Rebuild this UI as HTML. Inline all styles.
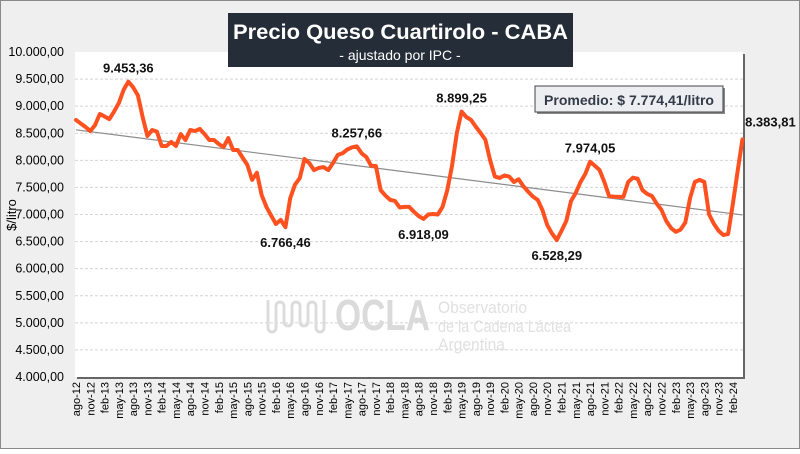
<!DOCTYPE html>
<html><head><meta charset="utf-8"><style>
body{margin:0;background:#fff}
svg text{font-family:"Liberation Sans",sans-serif}
</style></head><body>
<svg id="chart" width="800" height="449" xmlns="http://www.w3.org/2000/svg">
<rect x="0.5" y="0.5" width="799" height="448" fill="#efefef" stroke="#8a8a8a"/>
<rect x="77" y="54" width="668" height="325" fill="#666"/>
<rect x="75" y="52" width="668" height="325" fill="#fff"/>
<g id="grid"></g><g id="ylabels"></g><g id="xlabels"></g>
<g fill="#e0e0e0">
<text x="335" y="330" font-size="44" font-weight="bold" textLength="95" lengthAdjust="spacingAndGlyphs" fill="#dadada">OCLA</text>
<text x="438" y="313" font-size="17" textLength="89" lengthAdjust="spacingAndGlyphs">Observatorio</text>
<text x="438" y="332" font-size="17" textLength="133" lengthAdjust="spacingAndGlyphs">de la Cadena Láctea</text>
<text x="438" y="350" font-size="17" textLength="67" lengthAdjust="spacingAndGlyphs">Argentina</text>
<path d="M268 300 v28 a4 4 0 0 0 8 0 v-22 a4 4 0 0 1 8 0 v16 a4 4 0 0 0 8 0 v-16 a4 4 0 0 1 8 0 v16 a4 4 0 0 0 8 0 v-16 a4 4 0 0 1 8 0 v22 a4 4 0 0 0 8 0 v-28" fill="none" stroke="#dcdcdc" stroke-width="3"/>
</g>
<g id="series"></g>
<rect x="228" y="13" width="345" height="54" fill="#252d38"/>
<text x="233" y="39" font-size="21" font-weight="bold" fill="#fff" textLength="335" lengthAdjust="spacingAndGlyphs">Precio Queso Cuartirolo - CABA</text>
<text x="400" y="60" text-anchor="middle" font-size="14" fill="#fff">- ajustado por IPC -</text>
<rect x="537" y="88" width="188" height="26" fill="#888"/>
<rect x="535" y="86" width="188" height="26" fill="#eceef2" stroke="#444"/>
<text x="629" y="105" text-anchor="middle" font-size="14" font-weight="bold" fill="#333a48" textLength="170" lengthAdjust="spacingAndGlyphs">Promedio: $ 7.774,41/litro</text>
<text transform="translate(16,215) rotate(-90)" text-anchor="middle" font-size="13" fill="#000">$/litro</text>
</svg>
<script>
const values=[8744,8680,8615,8540,8650,8855,8810,8760,8900,9058,9300,9453,9350,9200,8800,8450,8560,8530,8265,8265,8340,8265,8485,8375,8560,8540,8580,8485,8375,8375,8300,8245,8410,8190,8190,8050,7915,7640,7770,7360,7140,6980,6825,6900,6766,7300,7550,7670,8025,7950,7820,7860,7875,7820,7950,8100,8130,8200,8240,8258,8130,8060,7900,7895,7450,7350,7270,7250,7130,7140,7140,7050,6970,6918,7000,7010,7000,7140,7450,7900,8500,8899,8800,8745,8620,8505,8380,8000,7700,7675,7720,7700,7600,7650,7520,7420,7330,7270,7080,6805,6650,6528,6700,6880,7250,7400,7600,7750,7974,7900,7820,7600,7340,7330,7325,7325,7600,7680,7660,7450,7380,7340,7200,7085,6880,6750,6680,6720,6850,7300,7600,7640,7600,7000,6830,6700,6620,6640,7200,7800,8384];
const yTicks=[4000,4500,5000,5500,6000,6500,7000,7500,8000,8500,9000,9500,10000];
const xLabels=["ago-12","nov-12","feb-13","may-13","ago-13","nov-13","feb-14","may-14","ago-14","nov-14","feb-15","may-15","ago-15","nov-15","feb-16","may-16","ago-16","nov-16","feb-17","may-17","ago-17","nov-17","feb-18","may-18","ago-18","nov-18","feb-19","may-19","ago-19","nov-19","feb-20","may-20","ago-20","nov-20","feb-21","may-21","ago-21","nov-21","feb-22","may-22","ago-22","nov-22","feb-23","may-23","ago-23","nov-23","feb-24"];
const annotIdx=[11,44,59,73,81,101,108,140];
const annotText=["9.453,36","6.766,46","8.257,66","6.918,09","8.899,25","6.528,29","7.974,05","8.383,81"];
const annotPos=["above","below","above","below","above","below","above","above"];

const NS="http://www.w3.org/2000/svg";
const X=i=>76+i*4.76;
const Y=v=>377-(v-4000)*325/6000;
function mk(t,a,p){const e=document.createElementNS(NS,t);for(const k in a)e.setAttribute(k,a[k]);p.appendChild(e);return e;}
const grid=document.getElementById('grid'),yl=document.getElementById('ylabels'),xl=document.getElementById('xlabels'),ser=document.getElementById('series');
yTicks.forEach(v=>{
  if(v>4000&&v<10000){const l=mk('line',{x1:75,x2:743,y1:Y(v),y2:Y(v),stroke:'#d4d4d4','stroke-dasharray':'3,2'},grid);
  
  }
  const t=mk('text',{x:64,y:Y(v)+4,'text-anchor':'end','font-size':'12.5',fill:'#000'},yl);
  t.textContent=v.toLocaleString('de-DE',{minimumFractionDigits:2});
  
  
});
xLabels.forEach((s,k)=>{
  const x=X(k*3);
  const t=mk('text',{transform:`translate(${x+4},382) rotate(-90)`,'text-anchor':'end','font-size':'11',fill:'#000'},xl);
  t.textContent=s;
  
  
});
const n=values.length;let sx=0,sy=0,sxy=0,sxx=0;
values.forEach((v,i)=>{sx+=i;sy+=v;sxy+=i*v;sxx+=i*i;});
const b=(n*sxy-sx*sy)/(n*sxx-sx*sx),a=(sy-b*sx)/n;
const tr=mk('line',{x1:X(0),y1:Y(a),x2:X(n-1),y2:Y(a+b*(n-1)),stroke:'#8c8c8c','stroke-width':1.2},ser);


const p=mk('polyline',{points:values.map((v,i)=>X(i)+','+Y(v)).join(' '),fill:'none',stroke:'#ff5020','stroke-width':4,'stroke-linejoin':'round','stroke-linecap':'round'},ser);


annotIdx.forEach((i,k)=>{
  const last=i===n-1;
  const t=mk('text',{x:X(i),y:annotPos[k]==='above'?Y(values[i])-9:Y(values[i])+20,'text-anchor':'middle','font-size':'13','font-weight':'bold',fill:'#111'},ser);
  if(last){t.setAttribute('x',X(i)+28);t.setAttribute('y',Y(values[i])-13);}
  t.textContent=annotText[k];
  
  
});
</script>
</body></html>
